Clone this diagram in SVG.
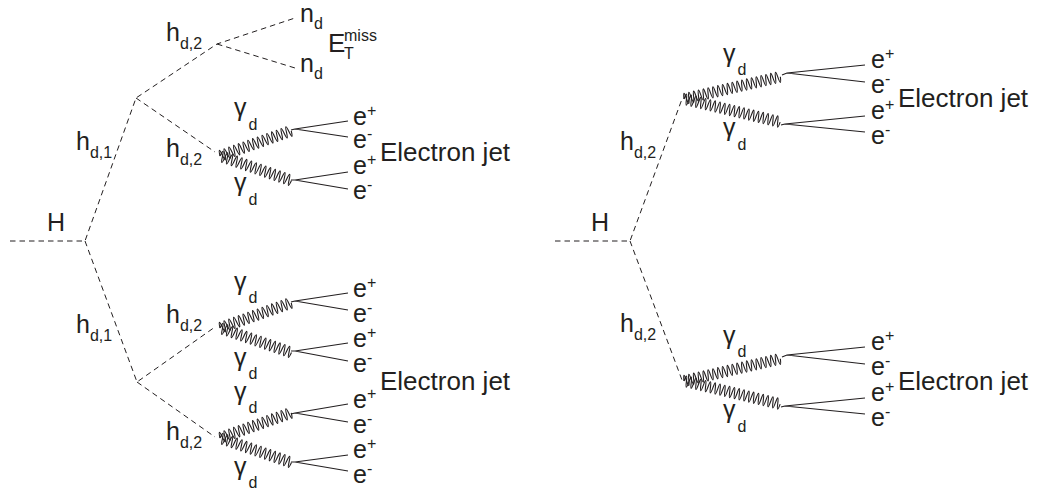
<svg xmlns="http://www.w3.org/2000/svg" width="1037" height="493" viewBox="0 0 1037 493">
<style>
text{font-family:"Liberation Sans",Arial,sans-serif;font-size:25px;fill:#231f20}
.s{font-size:16px}
.j{font-size:26px}
.d{fill:none;stroke:#231f20;stroke-width:1;stroke-dasharray:5.5 4}
.l{fill:none;stroke:#231f20;stroke-width:1.2}
.w{fill:none;stroke:#231f20;stroke-width:1.1}
</style>
<defs>
<path id="wig" class="w" d="M0 0q1.2 -11 2.4 0t2.4 0t2.4 0t2.4 0t2.4 0t2.4 0t2.4 0t2.4 0t2.4 0t2.4 0t2.4 0t2.4 0t2.4 0t2.4 0t2.4 0t2.4 0t2.4 0t2.4 0t2.4 0t2.4 0t2.4 0t2.4 0t2.4 0t2.4 0t2.4 0t2.4 0t2.4 0t2.4 0t2.4 0t2.4 0"/>
<path id="wigr" class="w" d="M0 0q1.2 -11 2.4 0t2.4 0t2.4 0t2.4 0t2.4 0t2.4 0t2.4 0t2.4 0t2.4 0t2.4 0t2.4 0t2.4 0t2.4 0t2.4 0t2.4 0t2.4 0t2.4 0t2.4 0t2.4 0t2.4 0t2.4 0t2.4 0t2.4 0t2.4 0t2.4 0t2.4 0t2.4 0t2.4 0t2.4 0t2.4 0t2.4 0t2.4 0t2.4 0t2.4 0t2.4 0t2.4 0t2.4 0t2.4 0t2.4 0t2.4 0"/>
</defs>
<g id="connectors">
<path class="d" d="M10 241H85L136 98L217 44L295 18M217 44L295 68M136 98L215 152"/>
<path class="d" d="M85 241L137 382L215 327M137 382L215 437"/>
<path class="d" d="M555 241H630L682 99M630 241L682 380"/>
<use href="#wig" transform="translate(220 156) rotate(-19.5) scale(1.05 1)"/>
<use href="#wig" transform="translate(220 156) rotate(19) scale(1.05 1)"/>
<use href="#wig" transform="translate(220 328) rotate(-19.5) scale(1.05 1)"/>
<use href="#wig" transform="translate(220 328) rotate(19) scale(1.05 1)"/>
<use href="#wig" transform="translate(220 438) rotate(-19.5) scale(1.05 1)"/>
<use href="#wig" transform="translate(220 438) rotate(19) scale(1.05 1)"/>
<use href="#wigr" transform="translate(684 99) rotate(-13) scale(1.03 1)"/>
<use href="#wigr" transform="translate(684 99) rotate(13.5) scale(1.03 1)"/>
<use href="#wigr" transform="translate(684 381) rotate(-13) scale(1.03 1)"/>
<use href="#wigr" transform="translate(684 381) rotate(13.5) scale(1.03 1)"/>
<path class="l" d="M291 130L295 129L348 121M295 129L348 137M291 180L295 180L348 172M295 180L348 189"/>
<path class="l" d="M291 302L295 301L348 293M295 301L348 310M291 351L295 351L348 343M295 351L348 361"/>
<path class="l" d="M291 414L295 413L348 404M295 413L348 422M291 462L295 462L348 455M295 462L348 471"/>
<path class="l" d="M782 75L787 73L865 65M787 73L865 82M781 125L785 124L865 116M785 124L865 132"/>
<path class="l" d="M782 357L787 355L865 347M787 355L865 364M781 407L785 406L865 398M785 406L865 414"/>
</g>
<g id="H-left"><text x="47" y="231">H</text></g>
<g id="H-right"><text x="591" y="231">H</text></g>
<g id="hd1-up"><text x="76" y="150">h<tspan class="s" dy="8">d,1</tspan></text></g>
<g id="hd1-down"><text x="76" y="333">h<tspan class="s" dy="8">d,1</tspan></text></g>
<g id="hd2-a"><text x="166" y="41">h<tspan class="s" dy="8">d,2</tspan></text></g>
<g id="hd2-b"><text x="166" y="157">h<tspan class="s" dy="8">d,2</tspan></text></g>
<g id="hd2-c"><text x="166" y="323">h<tspan class="s" dy="8">d,2</tspan></text></g>
<g id="hd2-d"><text x="166" y="440">h<tspan class="s" dy="8">d,2</tspan></text></g>
<g id="hd2-e"><text x="620" y="150">h<tspan class="s" dy="8">d,2</tspan></text></g>
<g id="hd2-f"><text x="620" y="332">h<tspan class="s" dy="8">d,2</tspan></text></g>
<g id="nd-1"><text x="300" y="22">n<tspan class="s" dy="7">d</tspan></text></g>
<g id="nd-2"><text x="300" y="72">n<tspan class="s" dy="7">d</tspan></text></g>
<g id="met"><text class="j" x="328" y="52">E</text><text class="s" x="344" y="41">miss</text><text class="s" x="344" y="59">T</text></g>
<g id="gammas">
<text x="234" y="116">γ<tspan class="s" dx="2" dy="14">d</tspan></text>
<text x="234" y="191">γ<tspan class="s" dx="2" dy="14">d</tspan></text>
<text x="234" y="290">γ<tspan class="s" dx="2" dy="13">d</tspan></text>
<text x="234" y="366">γ<tspan class="s" dx="2" dy="13">d</tspan></text>
<text x="234" y="400">γ<tspan class="s" dx="2" dy="13">d</tspan></text>
<text x="234" y="475">γ<tspan class="s" dx="2" dy="13">d</tspan></text>
<text x="723" y="62">γ<tspan class="s" dx="2" dy="13">d</tspan></text>
<text x="723" y="136">γ<tspan class="s" dx="2" dy="14">d</tspan></text>
<text x="723" y="344">γ<tspan class="s" dx="2" dy="13">d</tspan></text>
<text x="723" y="418">γ<tspan class="s" dx="2" dy="14">d</tspan></text>
</g>
<g id="electrons">
<text x="353" y="125">e<tspan class="s" dy="-9">+</tspan></text>
<text x="353" y="148">e<tspan class="s" dy="-9">-</tspan></text>
<text x="353" y="174">e<tspan class="s" dy="-9">+</tspan></text>
<text x="353" y="199">e<tspan class="s" dy="-9">-</tspan></text>
<text x="353" y="297">e<tspan class="s" dy="-9">+</tspan></text>
<text x="353" y="322">e<tspan class="s" dy="-9">-</tspan></text>
<text x="353" y="347">e<tspan class="s" dy="-9">+</tspan></text>
<text x="353" y="372">e<tspan class="s" dy="-9">-</tspan></text>
<text x="353" y="408">e<tspan class="s" dy="-9">+</tspan></text>
<text x="353" y="433">e<tspan class="s" dy="-9">-</tspan></text>
<text x="353" y="458">e<tspan class="s" dy="-9">+</tspan></text>
<text x="353" y="483">e<tspan class="s" dy="-9">-</tspan></text>
<text x="871" y="68">e<tspan class="s" dy="-9">+</tspan></text>
<text x="871" y="93">e<tspan class="s" dy="-9">-</tspan></text>
<text x="871" y="119">e<tspan class="s" dy="-9">+</tspan></text>
<text x="871" y="144">e<tspan class="s" dy="-9">-</tspan></text>
<text x="871" y="350">e<tspan class="s" dy="-9">+</tspan></text>
<text x="871" y="375">e<tspan class="s" dy="-9">-</tspan></text>
<text x="871" y="401">e<tspan class="s" dy="-9">+</tspan></text>
<text x="871" y="426">e<tspan class="s" dy="-9">-</tspan></text>
</g>
<g id="jets">
<text class="j" x="380" y="161">Electron jet</text>
<text class="j" x="380" y="390">Electron jet</text>
<text class="j" x="898" y="107">Electron jet</text>
<text class="j" x="898" y="390">Electron jet</text>
</g>
</svg>
